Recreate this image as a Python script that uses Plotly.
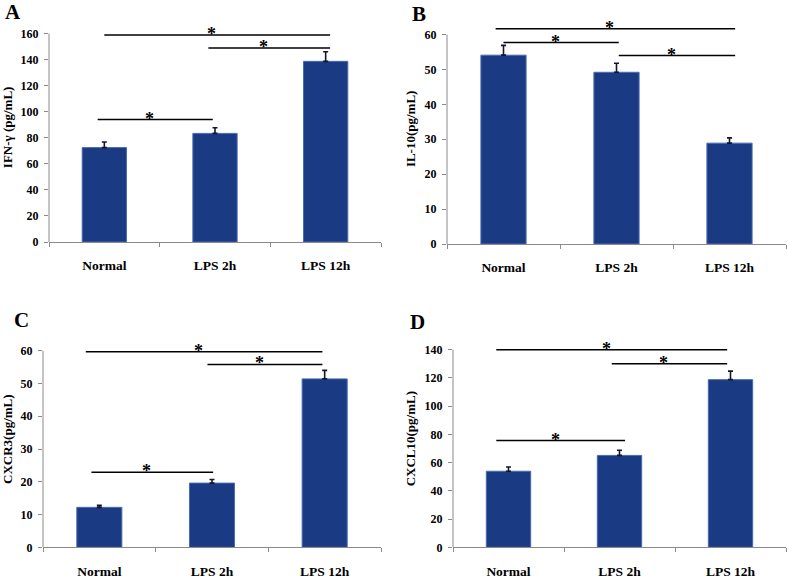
import plotly.graph_objects as go

W, H = 787, 579

categories = ["Normal", "LPS 2h", "LPS 12h"]

ifng_values = [72.5, 83.4, 138.7]
ifng_errors = [4.3, 4.3, 7.4]

il10_values = [54.1, 49.2, 28.9]
il10_errors = [2.8, 2.6, 1.5]

cxcr3_values = [12.2, 19.6, 51.4]
cxcr3_errors = [0.6, 1.1, 2.6]

cxcl10_values = [53.9, 65.1, 118.8]
cxcl10_errors = [3.0, 3.7, 6.0]

# significance brackets: (start, end) in category units, height in data units
ifng_sig = [(0.0, 2.04, 159), (0.94, 2.04, 149), (-0.06, 0.98, 94)]
il10_sig = [(-0.07, 2.05, 61.7), (0.0, 1.02, 57.7), (1.02, 2.05, 54)]
cxcr3_sig = [(-0.12, 1.98, 59.7), (0.96, 1.98, 55.8), (-0.07, 1.01, 22.9)]
cxcl10_sig = [(-0.11, 1.97, 140), (0.93, 1.97, 130), (-0.11, 1.05, 75.6)]

FONT = "Liberation Serif"
BAR = "#1b3a84"
AXIS = "#8a8a8a"

# (letter, ytitle, values, errors, sig, ymax, dtick, left px, right px, zero px, top px)
panels = [
    ("A", "IFN-γ (pg/mL)", ifng_values, ifng_errors, ifng_sig, 160, 20, 49, 381, 245, 34),
    ("B", "IL-10(pg/mL)", il10_values, il10_errors, il10_sig, 60, 10, 447, 786, 247, 35),
    ("C", "CXCR3(pg/mL)", cxcr3_values, cxcr3_errors, cxcr3_sig, 60, 10, 43, 381, 554, 355),
    ("D", "CXCL10(pg/mL)", cxcl10_values, cxcl10_errors, cxcl10_sig, 140, 20, 453, 786, 554, 354),
]
letter_pos = {"A": (3, -2), "B": (410, 0), "C": (12, 310), "D": (408, 312)}

HEAD = 1.1  # extra range above top tick so brackets are not clipped

fig = go.Figure()
shapes = []
annotations = []

for i, (letter, ytitle, vals, errs, sig, ymax, dtick, left, right, zero, top) in enumerate(panels):
    n = "" if i == 0 else str(i + 1)
    xa, ya = "x" + n, "y" + n
    fig.add_trace(go.Bar(
        x=categories, y=vals, xaxis=xa, yaxis=ya, width=0.4,
        marker=dict(color=BAR, line=dict(color="#4a6cb0", width=1)),
        error_y=dict(type="data", symmetric=False, array=errs, arrayminus=[0] * len(errs),
                     color="#15152e", thickness=1.6, width=2.5),
        showlegend=False, hoverinfo="skip",
    ))
    plot_top = zero - (zero - top) * HEAD
    fig.update_layout({
        "xaxis" + n: dict(
            domain=[left / W, right / W], anchor=ya, range=[-0.5, 2.5],
            showline=True, linecolor=AXIS, linewidth=1,
            ticks="outside", tickson="boundaries", ticklen=4, tickcolor=AXIS,
            ticklabelstandoff=11, showgrid=False,
            tickfont=dict(family=FONT, size=13.5, color="black", weight="bold"),
        ),
        "yaxis" + n: dict(
            domain=[1 - zero / H, 1 - plot_top / H], anchor=xa,
            range=[0, ymax * HEAD],
            tickvals=list(range(0, ymax + 1, dtick)),
            showline=False, showgrid=False, zeroline=False,
            ticks="outside", ticklen=4, tickcolor=AXIS, ticklabelstandoff=3,
            tickfont=dict(family=FONT, size=12, color="black", weight="bold"),
            title=dict(text=ytitle, standoff=6,
                       font=dict(family=FONT, size=13, color="black", weight="bold")),
        ),
    })
    # y axis line only up to the top tick
    shapes.append(dict(type="line", xref=xa + " domain", yref=ya, x0=0, x1=0, y0=0, y1=ymax,
                       line=dict(color=AXIS, width=1)))
    for x0, x1, yv in sig:
        shapes.append(dict(type="line", xref=xa, yref=ya, x0=x0, x1=x1, y0=yv, y1=yv,
                           line=dict(color="black", width=1.5)))
        annotations.append(dict(xref=xa, yref=ya, x=(x0 + x1) / 2 - 0.05, y=yv, text="*",
                                showarrow=False, yanchor="middle", yshift=1,
                                font=dict(family=FONT, size=18, color="black", weight="bold")))
    lx, ly = letter_pos[letter]
    annotations.append(dict(xref="paper", yref="paper", x=lx / W, y=1 - ly / H, text=letter,
                            showarrow=False, xanchor="left", yanchor="top",
                            font=dict(family=FONT, size=21, color="black", weight="bold")))

fig.update_layout(
    width=W, height=H,
    margin=dict(l=0, r=0, t=0, b=0),
    paper_bgcolor="white", plot_bgcolor="white",
    shapes=shapes, annotations=annotations,
    bargap=0.6,
)

# drop the browser's default body margin and scrollbars so the figure fills the window
page_fix = (
    "document.body.style.margin = '0';"
    "document.body.style.overflow = 'hidden';"
    "document.documentElement.style.overflow = 'hidden';"
)
fig.write_html("out.html", config={"displayModeBar": False}, post_script=page_fix)
